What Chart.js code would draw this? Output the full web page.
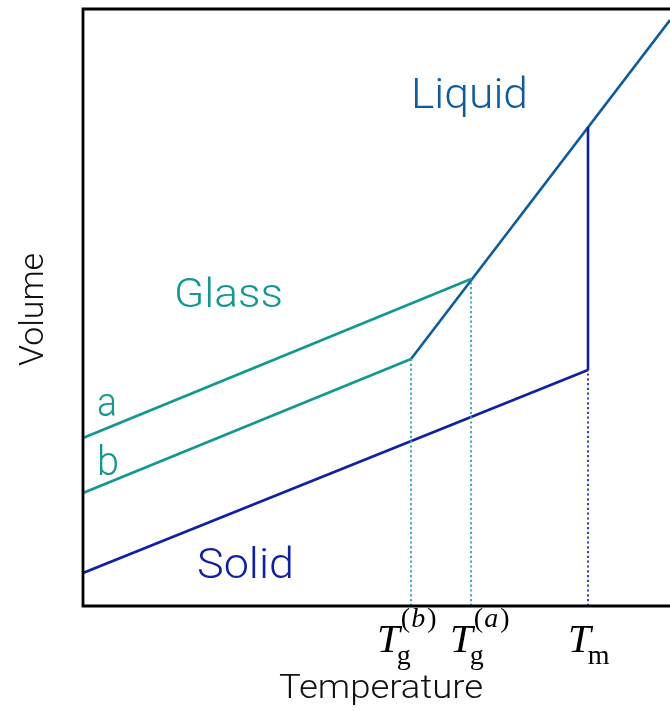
<!DOCTYPE html>
<html>
<head>
<meta charset="utf-8">
<title>Volume vs temperature: liquid, glass and solid</title>
<script src="https://cdn.jsdelivr.net/npm/chart.js@4/dist/chart.umd.min.js"></script>
<style>
  html, body { margin: 0; padding: 0; background: #ffffff; }
  #wrap { width: 670px; height: 711px; }
</style>
</head>
<body>
<div id="wrap"><canvas id="c" width="670" height="711"></canvas></div>
<script>
// Characteristic temperatures (arbitrary units along the temperature axis)
const tgB = 328;      // glass transition, slow cooling (b)
const tgA = 388;      // glass transition, fast cooling (a)
const tMelt = 505;    // melting point
const tMax = 587;     // right end of the axis
const vMax = 598;     // top of the volume axis

// Curves: temperature and volume values
const liquidT = [tgB, tMax];
const liquidV = [247, 586];
const glassAT = [0, tgA];
const glassAV = [168, 327];
const glassBT = [0, tgB];
const glassBV = [113, 247];
const solidT  = [0, tMelt];
const solidV  = [33, 236];
const meltT   = [tMelt, tMelt];
const meltV   = [236, 479];

// Tick labels at the characteristic temperatures
const tickTemps = [tgB, tgA, tMelt];
const tickMain  = ['T', 'T', 'T'];
const tickSub   = ['g', 'g', 'm'];
const tickSup   = ['(b)', '(a)', ''];

const C_LIQ = '#0e5c9c';
const C_GLASS = '#14978f';
const C_SOLID = '#1020a0';
const C_GUIDE_G = '#36a8b0';
const C_GUIDE_M = '#3034c4';

const pts = (xs, ys) => xs.map((x, i) => ({ x: x, y: ys[i] }));

function curve(xs, ys, color, extra) {
  return Object.assign({
    data: pts(xs, ys),
    showLine: true,
    borderColor: color,
    borderWidth: 2.6,
    pointRadius: 0,
    fill: false,
    tension: 0,
    borderCapStyle: 'butt',
    borderJoinStyle: 'miter'
  }, extra || {});
}

const guide = { borderWidth: 1.9, borderDash: [2.2, 2.6] };
const datasets = [
  // dotted guides from the axis up to each transition point
  curve([tgB, tgB], [0, glassBV[1]], C_GUIDE_G, guide),
  curve([tgA, tgA], [0, glassAV[1]], C_GUIDE_G, guide),
  curve([tMelt, tMelt], [0, solidV[1]], C_GUIDE_M, guide),
  curve(solidT, solidV, C_SOLID),
  curve(meltT, meltV, C_SOLID),
  curve(glassAT, glassAV, C_GLASS),
  curve(glassBT, glassBV, C_GLASS),
  curve(liquidT, liquidV, C_LIQ)
];

const SANS = 'Roboto, "Liberation Sans", sans-serif';
const SERIF = '"Liberation Serif", "DejaVu Serif", serif';

// draw text stretched horizontally to a given width, starting at x
function fitText(ctx, text, x, y, width) {
  const w = ctx.measureText(text).width;
  ctx.save();
  ctx.translate(x, y);
  ctx.scale(width / w, 1);
  ctx.textAlign = 'left';
  ctx.fillText(text, 0, 0);
  ctx.restore();
}

// Axes frame, phase names, axis titles and math tick labels
const decorations = {
  id: 'decorations',
  afterDatasetsDraw(chart) {
    const ctx = chart.ctx;
    const a = chart.chartArea;
    const xs = chart.scales.x, ys = chart.scales.y;
    ctx.save();

    // frame: left, top and bottom spines
    ctx.strokeStyle = '#000000';
    ctx.lineWidth = 2.8;
    ctx.beginPath();
    ctx.moveTo(chart.width + 2, a.top + 1);
    ctx.lineTo(a.left, a.top + 1);
    ctx.lineTo(a.left, a.bottom);
    ctx.lineTo(chart.width + 2, a.bottom);
    ctx.stroke();

    // phase labels anchored in data space
    ctx.textBaseline = 'alphabetic';
    const label = (text, t, v, color, size, width) => {
      ctx.fillStyle = color;
      ctx.font = '300 ' + size + 'px ' + SANS;
      fitText(ctx, text, xs.getPixelForValue(t), ys.getPixelForValue(v), width);
    };
    label('Liquid', 328, 498, C_LIQ, 42, 117);
    label('Glass', 91, 299, C_GLASS, 41, 109);
    label('a', 14, 190, C_GLASS, 40, 20);
    label('b', 14, 131, C_GLASS, 41, 22);
    label('Solid', 114, 28, C_SOLID, 42, 97);

    // axis titles
    ctx.fillStyle = '#111111';
    ctx.font = '300 33px ' + SANS;
    fitText(ctx, 'Temperature', 279, a.bottom + 92, 204);
    ctx.save();
    ctx.translate(43, 366);
    ctx.rotate(-Math.PI / 2);
    fitText(ctx, 'Volume', 0, 0, 113);
    ctx.restore();

    // tick labels: T with subscript and optional superscript
    const leftOffsets = [-34, -21, -20];
    tickTemps.forEach((t, i) => {
      const px = xs.getPixelForValue(t);
      const x0 = px + leftOffsets[i];
      const base = a.bottom + 46;
      ctx.fillStyle = '#000000';
      ctx.textAlign = 'left';
      ctx.font = 'italic 41px ' + SERIF;
      ctx.fillText(tickMain[i], x0, base);
      const wT = ctx.measureText(tickMain[i]).width;
      ctx.font = '28px ' + SERIF;
      ctx.fillText(tickSub[i], x0 + wT - 3, base + 12);
      if (tickSup[i]) {
        const p = tickSup[i];
        // parentheses upright, letter italic
        let x = x0 + wT + 1;
        const top = base - 25;
        ctx.font = '28px ' + SERIF;
        ctx.fillText('(', x, top);
        x += ctx.measureText('(').width + 1;
        ctx.font = 'italic 28px ' + SERIF;
        ctx.fillText(p[1], x, top);
        x += ctx.measureText(p[1]).width + 2;
        ctx.font = '28px ' + SERIF;
        ctx.fillText(')', x, top);
      }
    });
    ctx.restore();
  }
};

new Chart(document.getElementById('c'), {
  type: 'scatter',
  data: { datasets: datasets },
  options: {
    responsive: false,
    animation: false,
    events: [],
    layout: { padding: { left: 83, top: 8, right: 0, bottom: 105 } },
    plugins: { legend: { display: false }, tooltip: { enabled: false } },
    scales: {
      x: { type: 'linear', min: 0, max: tMax, display: false },
      y: { type: 'linear', min: 0, max: vMax, display: false }
    }
  },
  plugins: [decorations]
});
</script>
</body>
</html>
